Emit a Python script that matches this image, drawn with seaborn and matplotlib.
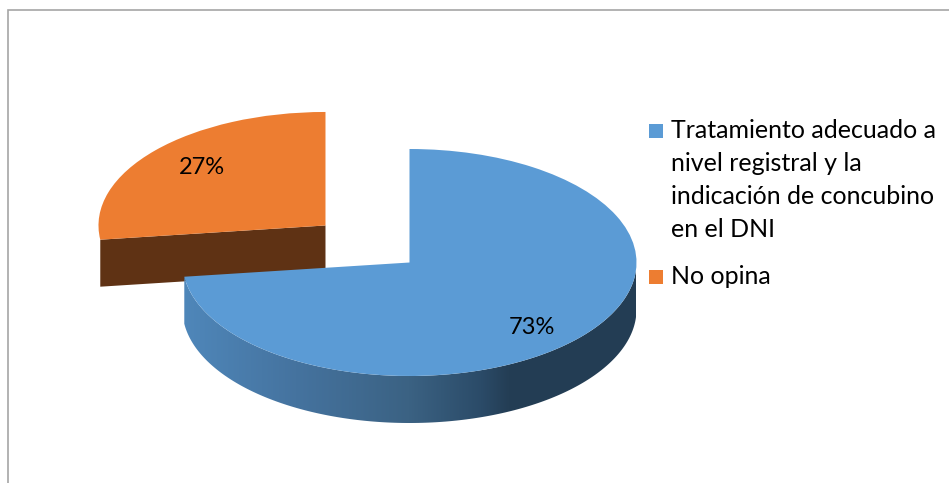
import numpy as np
import matplotlib
matplotlib.use("Agg")
import matplotlib.pyplot as plt
from matplotlib.colors import LinearSegmentedColormap
from matplotlib.patches import Polygon
import seaborn as sns

# chart data
labels = ["Tratamiento adecuado a\nnivel registral y la\nindicación de concubino\nen el DNI", "No opina"]
shares = [73, 27]
colors = ["#5b9bd5", "#ed7d31"]
explode = [0, 112]  # pie takes this in data units
side_stops = ["#4f87ba", "#45739f", "#3b6283", "#2b4b68", "#243e55", "#233d54"]

W, H = 949, 483
DEPTH = 94  # in data units, y axis is stretched x2 to flatten the pie


def py(y):
    # pixel row to data y
    return (H - y) * 2


sns.set_theme(style="white")
plt.rcParams["font.family"] = ["Lato", "DejaVu Sans"]

fig = plt.figure(figsize=(W / 100, H / 100), dpi=100)
ax = fig.add_axes([0, 0, 1, 1])

wedges, texts, autotexts = ax.pie(
    shares,
    colors=colors,
    explode=explode,
    center=(409.5, py(262.5)),
    radius=227,
    startangle=90,
    counterclock=False,
    autopct="%d%%",
    pctdistance=0.72,
    wedgeprops={"edgecolor": "none", "linewidth": 0},
    textprops={"fontsize": 17, "color": "black"},
)
ax.set_aspect("auto")
ax.set_xlim(0, W)
ax.set_ylim(0, H * 2)
ax.axis("off")

blue, orange = wedges
blue.set_zorder(5)
orange.set_zorder(3)
for t in autotexts:
    t.set_zorder(6)
autotexts[0].set_position((532, py(327)))
autotexts[1].set_position((202, py(168)))

# cut face of the exploded slice, runs from the centre to the arc end on the left
cx, cy = orange.center
ang = np.deg2rad(orange.theta1 if np.cos(np.deg2rad(orange.theta1)) < -0.5 else orange.theta2)
ex, ey = cx + orange.r * np.cos(ang), cy + orange.r * np.sin(ang)
face = Polygon([(cx, cy), (ex, ey), (ex, ey - DEPTH), (cx, cy - DEPTH)], closed=True, fc="#5f3214", ec="none", zorder=2)
ax.add_patch(face)

# outer side of the big slice, gradient clipped to the rim
cx, cy = blue.center
t1 = blue.theta1 % 360
th = np.deg2rad(np.linspace(t1, 360, 200))
rim_x = cx + blue.r * np.cos(th)
rim_y = cy + blue.r * np.sin(th)
rim = np.column_stack([np.r_[rim_x, rim_x[::-1]], np.r_[rim_y, rim_y[::-1] - DEPTH]])
cmap = LinearSegmentedColormap.from_list("side", list(zip([0, 0.25, 0.5, 0.66, 0.72, 1], side_stops)))
grad = np.linspace(0, 1, 256).reshape(1, -1)
im = ax.imshow(grad, cmap=cmap, aspect="auto", zorder=4, extent=(cx - blue.r, cx + blue.r, cy - blue.r - DEPTH, cy + blue.r))
im.set_clip_path(Polygon(rim, closed=True, transform=ax.transData))
ax.set_xlim(0, W)
ax.set_ylim(0, H * 2)

# legend, squares and text set by hand so the square sits on the first line
ax.scatter([656.5], [py(131)], marker="s", s=112, color=colors[0], linewidths=0, zorder=6)
ax.scatter([656.5], [py(276.5)], marker="s", s=112, color=colors[1], linewidths=0, zorder=6)
ax.text(671, py(180), labels[0], fontsize=18, va="center", ha="left", color="black", linespacing=1.53)
ax.text(671, py(277), labels[1], fontsize=18, va="center", ha="left", color="black")

# chart frame, only top and left fall inside the crop
ax.plot([8.5, 8.5, W], [py(H), py(10), py(10)], color="#a6a6a6", lw=1.2, zorder=1, solid_joinstyle="miter")

fig.savefig("out.png", dpi=100, facecolor="white")
